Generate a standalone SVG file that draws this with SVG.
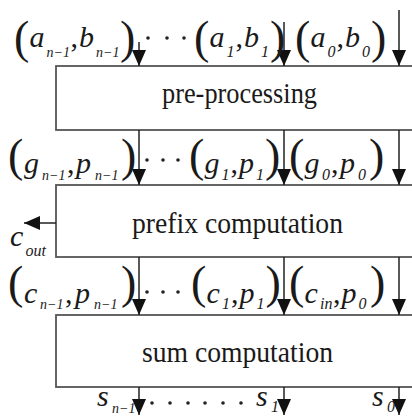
<svg xmlns="http://www.w3.org/2000/svg" width="412" height="416" viewBox="0 0 412 416">
<defs>
<style>
text{font-family:"Liberation Serif","Times New Roman",serif;fill:#1a1a1a}
.box{fill:#fff;stroke:#555;stroke-width:1.8}
.bt{font-size:30px}
.m{font-style:italic;font-size:30px}
.s{font-style:italic;font-size:16px}
.sn{font-style:italic;font-size:14px}
.p{font-size:46px;font-style:normal}
.c{font-size:30px;font-style:normal}
.ln{stroke:#222;stroke-width:1.5;fill:none;marker-end:url(#ah)}
.dot{fill:#222}
</style>
<marker id="ah" markerUnits="userSpaceOnUse" markerWidth="16" markerHeight="16" viewBox="0 0 16 16" refX="16" refY="8" orient="auto">
<path d="M0,1 L16,8 L0,15 z" fill="#111"/>
</marker>
</defs>
<rect width="412" height="416" fill="#fff"/>

<g id="pre-processing">
<rect class="box" x="56" y="66" width="370" height="64"/>
<text class="bt" x="162" y="103" textLength="155" lengthAdjust="spacingAndGlyphs">pre-processing</text>
</g>
<g id="prefix-computation">
<rect class="box" x="56" y="185" width="370" height="72"/>
<text class="bt" x="132" y="233" textLength="211" lengthAdjust="spacingAndGlyphs">prefix computation</text>
</g>
<g id="sum-computation">
<rect class="box" x="56" y="315" width="370" height="72"/>
<text class="bt" x="142" y="362" textLength="191" lengthAdjust="spacingAndGlyphs">sum computation</text>
</g>

<g id="connectors">
<line class="ln" x1="139" y1="42" x2="139" y2="66"/>
<line class="ln" x1="284" y1="22" x2="284" y2="66"/>
<line class="ln" x1="399" y1="10" x2="399" y2="66"/>
<line class="ln" x1="139" y1="130" x2="139" y2="185"/>
<line class="ln" x1="284" y1="130" x2="284" y2="185"/>
<line class="ln" x1="399" y1="130" x2="399" y2="185"/>
<line class="ln" x1="139" y1="257" x2="139" y2="315"/>
<line class="ln" x1="284" y1="257" x2="284" y2="315"/>
<line class="ln" x1="399" y1="257" x2="399" y2="315"/>
<line class="ln" x1="139" y1="387" x2="139" y2="415"/>
<line class="ln" x1="284" y1="387" x2="284" y2="415"/>
<line class="ln" x1="399" y1="387" x2="399" y2="415"/>
<line class="ln" x1="56" y1="223" x2="24" y2="223"/>
</g>

<g id="inputs-ab">
<text><tspan class="p" x="14" y="53">(</tspan><tspan class="m" x="29.5" y="47">a</tspan><tspan class="sn" x="46.5" y="57">n−1</tspan><tspan class="c" x="70.5" y="47">,</tspan><tspan class="m" x="79" y="47">b</tspan><tspan class="sn" x="96" y="57">n−1</tspan><tspan class="p" x="120" y="53">)</tspan></text>
<circle class="dot" cx="148" cy="38" r="1.8"/>
<circle class="dot" cx="167" cy="38" r="1.8"/>
<circle class="dot" cx="184" cy="38" r="1.8"/>
<text><tspan class="p" x="194" y="53">(</tspan><tspan class="m" x="209.5" y="47">a</tspan><tspan class="s" x="226.5" y="57">1</tspan><tspan class="c" x="235.5" y="47">,</tspan><tspan class="m" x="244" y="47">b</tspan><tspan class="s" x="261" y="57">1</tspan><tspan class="p" x="270" y="53">)</tspan></text>
<text><tspan class="p" x="295" y="53">(</tspan><tspan class="m" x="310.5" y="47">a</tspan><tspan class="s" x="327.5" y="57">0</tspan><tspan class="c" x="336.5" y="47">,</tspan><tspan class="m" x="345" y="47">b</tspan><tspan class="s" x="362" y="57">0</tspan><tspan class="p" x="371" y="53">)</tspan></text>
</g>

<g id="signals-gp">
<text><tspan class="p" x="8" y="171">(</tspan><tspan class="m" x="24" y="173">g</tspan><tspan class="sn" x="42" y="180">n−1</tspan><tspan class="c" x="67" y="173">,</tspan><tspan class="m" x="76" y="173">p</tspan><tspan class="sn" x="95" y="180">n−1</tspan><tspan class="p" x="121" y="171">)</tspan></text>
<circle class="dot" cx="147" cy="160" r="1.8"/>
<circle class="dot" cx="163" cy="160" r="1.8"/>
<circle class="dot" cx="178" cy="160" r="1.8"/>
<text><tspan class="p" x="189" y="171">(</tspan><tspan class="m" x="204.5" y="173">g</tspan><tspan class="s" x="221.5" y="180">1</tspan><tspan class="c" x="230.5" y="173">,</tspan><tspan class="m" x="239" y="173">p</tspan><tspan class="s" x="256" y="180">1</tspan><tspan class="p" x="265" y="171">)</tspan></text>
<text><tspan class="p" x="289" y="171">(</tspan><tspan class="m" x="304.5" y="173">g</tspan><tspan class="s" x="322" y="180">0</tspan><tspan class="c" x="331" y="173">,</tspan><tspan class="m" x="340" y="173">p</tspan><tspan class="s" x="358" y="180">0</tspan><tspan class="p" x="369" y="171">)</tspan></text>
</g>

<g id="carry-out">
<text><tspan class="m" x="10" y="246">c</tspan><tspan class="s" x="25.5" y="256">out</tspan></text>
</g>

<g id="signals-cp">
<text><tspan class="p" x="8" y="298">(</tspan><tspan class="m" x="24" y="303">c</tspan><tspan class="sn" x="40" y="309">n−1</tspan><tspan class="c" x="65" y="303">,</tspan><tspan class="m" x="75" y="303">p</tspan><tspan class="sn" x="94" y="309">n−1</tspan><tspan class="p" x="121" y="298">)</tspan></text>
<circle class="dot" cx="147" cy="292" r="1.8"/>
<circle class="dot" cx="163" cy="292" r="1.8"/>
<circle class="dot" cx="178" cy="292" r="1.8"/>
<text><tspan class="p" x="191" y="298">(</tspan><tspan class="m" x="206.5" y="303">c</tspan><tspan class="s" x="222" y="309">1</tspan><tspan class="c" x="231" y="303">,</tspan><tspan class="m" x="239.5" y="303">p</tspan><tspan class="s" x="256.5" y="309">1</tspan><tspan class="p" x="265.5" y="298">)</tspan></text>
<text><tspan class="p" x="289" y="298">(</tspan><tspan class="m" x="304.5" y="303">c</tspan><tspan class="s" x="320" y="309">in</tspan><tspan class="c" x="333" y="303">,</tspan><tspan class="m" x="341.5" y="303">p</tspan><tspan class="s" x="358.5" y="309">0</tspan><tspan class="p" x="370" y="298">)</tspan></text>
</g>

<g id="outputs-s">
<text><tspan class="m" x="97" y="406">s</tspan><tspan class="sn" x="112" y="413">n−1</tspan></text>
<circle class="dot" cx="152" cy="403" r="1.8"/>
<circle class="dot" cx="170" cy="403" r="1.8"/>
<circle class="dot" cx="188" cy="403" r="1.8"/>
<circle class="dot" cx="205" cy="403" r="1.8"/>
<circle class="dot" cx="223" cy="403" r="1.8"/>
<circle class="dot" cx="241" cy="403" r="1.8"/>
<text><tspan class="m" x="256" y="406">s</tspan><tspan class="s" x="271" y="412">1</tspan></text>
<text><tspan class="m" x="372" y="406">s</tspan><tspan class="s" x="387" y="412">0</tspan></text>
</g>
</svg>
